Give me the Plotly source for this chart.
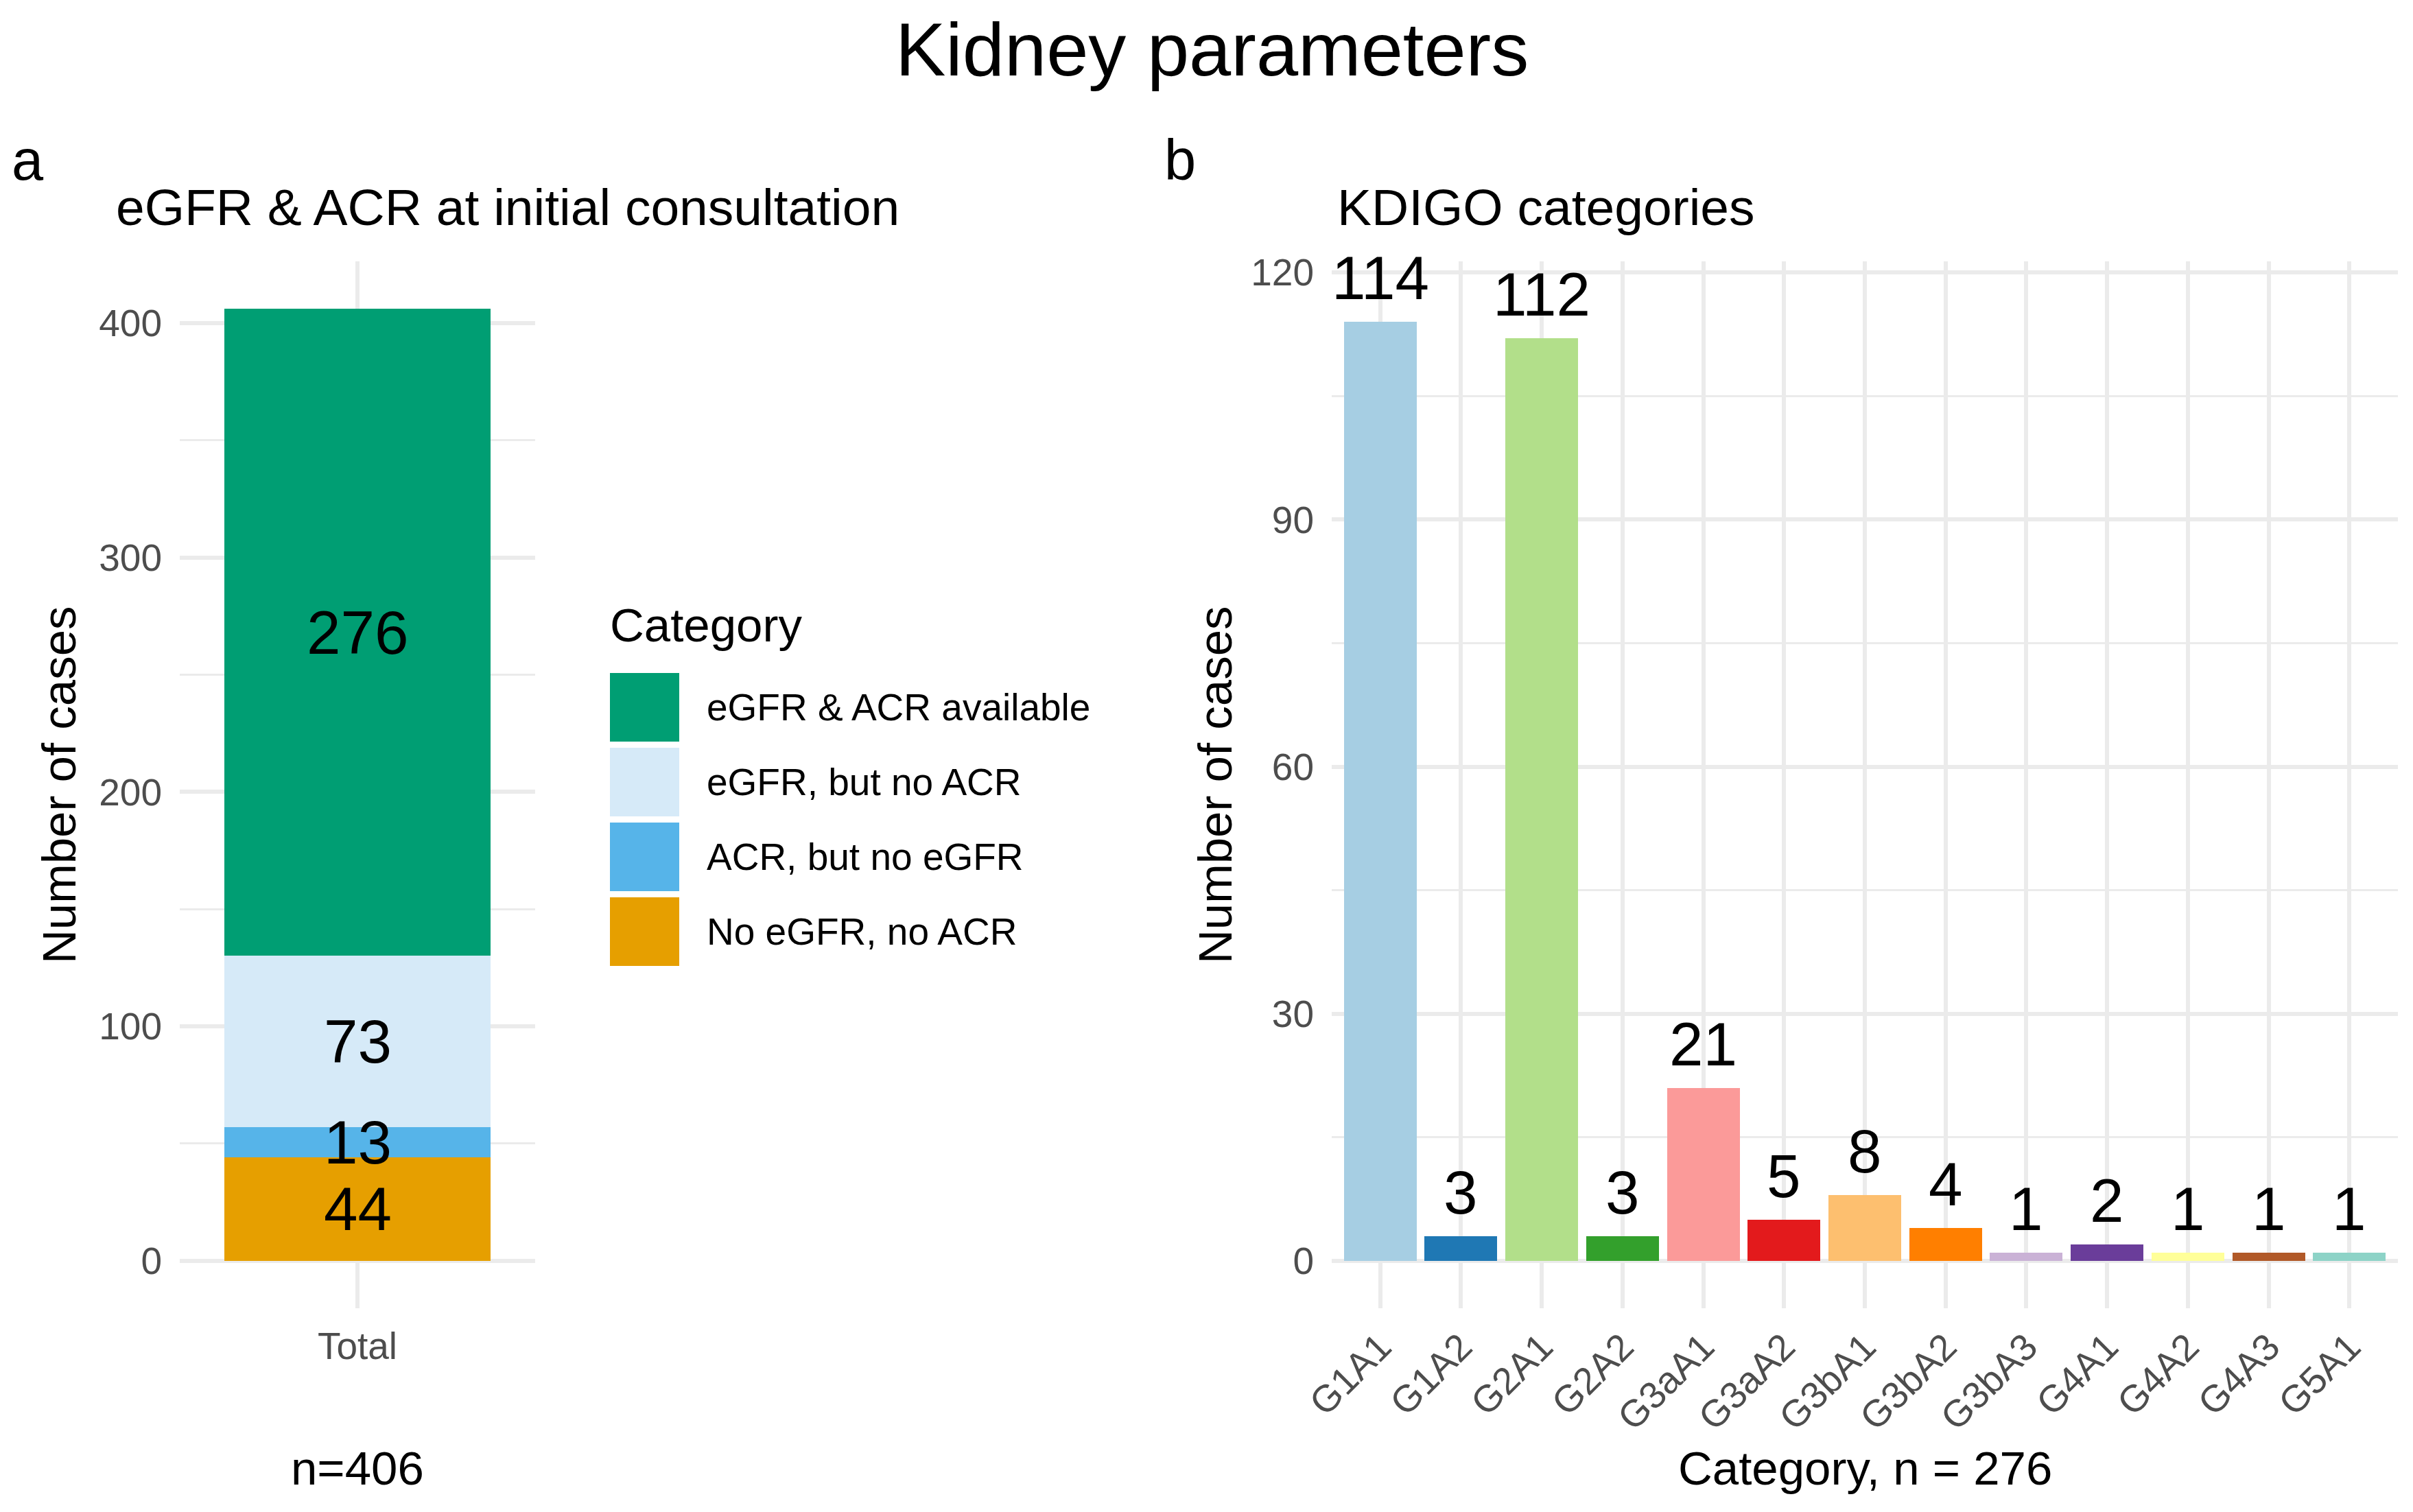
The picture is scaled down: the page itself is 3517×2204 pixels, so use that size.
import numpy as np
import plotly.graph_objects as go

W, H = 3517, 2204
OFF = 8  # page body margin compensation
FONT = "Liberation Sans, Arial, sans-serif"

# ---------------- data ----------------
# Panel a: stacked single bar
a_categories = ["eGFR & ACR available", "eGFR, but no ACR", "ACR, but no eGFR", "No eGFR, no ACR"]
a_values = [276, 73, 13, 44]
a_colors = ["#009E73", "#D6EAF8", "#56B4E9", "#E69F00"]
a_xlabel = "Total"
a_yticks = [0, 100, 200, 300, 400]

# Panel b: KDIGO categories
b_categories = ["G1A1", "G1A2", "G2A1", "G2A2", "G3aA1", "G3aA2", "G3bA1",
                "G3bA2", "G3bA3", "G4A1", "G4A2", "G4A3", "G5A1"]
b_values = [114, 3, 112, 3, 21, 5, 8, 4, 1, 2, 1, 1, 1]
b_colors = ["#A6CEE3", "#1F78B4", "#B2DF8A", "#33A02C", "#FB9A99", "#E31A1C",
            "#FDBF6F", "#FF7F00", "#CAB2D6", "#6A3D9A", "#FFFF99", "#B15928", "#8DD3C7"]
b_yticks = [0, 30, 60, 90, 120]

# ---------------- helpers ----------------
def px(x):
    return (x - OFF) / W

def py(y):
    return 1 - (y - OFF) / H

GRID = "#EBEBEB"
TICK_COL = "#4D4D4D"
LABEL_SIZE = 89

fig = go.Figure()

# stacked bars: bottom first (reverse of legend order)
order = list(range(len(a_categories)))[::-1]
for i in order:
    fig.add_trace(go.Bar(
        x=[a_xlabel], y=[a_values[i]], name=a_categories[i],
        marker=dict(color=a_colors[i], line=dict(width=0)),
        width=0.9, xaxis="x", yaxis="y", showlegend=False,
    ))

fig.add_trace(go.Bar(
    x=b_categories, y=b_values,
    marker=dict(color=b_colors, line=dict(width=0)),
    width=0.9, xaxis="x2", yaxis="y2", showlegend=False,
))

annotations = []

# labels centred in stacked segments
stack_vals = [a_values[i] for i in order]
cum = np.cumsum(stack_vals)
mids = cum - np.array(stack_vals) / 2
for v, m in zip(stack_vals, mids):
    annotations.append(dict(
        x=a_xlabel, y=float(m), xref="x", yref="y", text=str(v), showarrow=False,
        xanchor="center", yanchor="middle",
        font=dict(family=FONT, size=LABEL_SIZE, color="black")))

# labels above bars in panel b
for c, v in zip(b_categories, b_values):
    annotations.append(dict(
        x=c, y=v, xref="x2", yref="y2", text=str(v), showarrow=False,
        xanchor="center", yanchor="bottom", yshift=12,
        font=dict(family=FONT, size=LABEL_SIZE, color="black")))

# texts: title, tags, subtitles, axis titles
def txt(text, x, y, size, xanchor="left", yanchor="middle", angle=0, color="black"):
    annotations.append(dict(
        text=text, x=px(x), y=py(y), xref="paper", yref="paper", showarrow=False,
        xanchor=xanchor, yanchor=yanchor, textangle=angle,
        font=dict(family=FONT, size=size, color=color)))

# main title, anchored to the top edge so it is not clipped
annotations.append(dict(
    text="Kidney parameters", x=0.5, y=1.0, xref="paper", yref="paper",
    showarrow=False, xanchor="center", yanchor="top",
    font=dict(family=FONT, size=110, color="black")))
txt("a", 15, 233, 83)
txt("b", 1695, 233, 83)
txt("eGFR &amp; ACR at initial consultation", 167, 302, 75)
txt("KDIGO categories", 1947, 302, 75)
txt("Number of cases", 86, 1144, 69, xanchor="center", angle=-90)
txt("Number of cases", 1771, 1144, 69, xanchor="center", angle=-90)
txt("n=406", 521, 2140, 69, xanchor="center")
txt("Category, n = 276", 2718, 2140, 69, xanchor="center")

# manual legend (ggplot-style large keys)
txt("Category", 887, 912, 69)
shapes = []
key_x0, key_x1 = 889, 990
key_top0, key_pitch, key_h = 981, 109, 100
for i, (name, col) in enumerate(zip(a_categories, a_colors)):
    top = key_top0 + i * key_pitch
    shapes.append(dict(type="rect", xref="paper", yref="paper",
                       x0=px(key_x0), x1=px(key_x1), y0=py(top + key_h), y1=py(top),
                       fillcolor=col, line=dict(width=0), layer="above"))
    txt(name.replace("&", "&amp;"), 1028, top + key_h / 2, 55)

# ---------------- axes ----------------
dom_y = [py(1907), py(381)]

common_y = dict(showgrid=True, gridcolor=GRID, gridwidth=6, zeroline=False,
                showline=False, ticks="", automargin=False,
                tickfont=dict(family=FONT, size=55, color=TICK_COL),
                ticklabelstandoff=25)
common_x = dict(showgrid=True, gridcolor=GRID, gridwidth=6, zeroline=False,
                showline=False, ticks="", automargin=False, type="category",
                tickfont=dict(family=FONT, size=55, color=TICK_COL))

fig.update_layout(
    width=W, height=H,
    margin=dict(l=0, r=0, t=0, b=0, pad=0),
    paper_bgcolor="white", plot_bgcolor="white",
    barmode="stack", bargap=0,
    showlegend=False,
    font=dict(family=FONT),
    xaxis=dict(domain=[px(262), px(780)], range=[-0.6, 0.6],
               ticklabelstandoff=18, **common_x),
    yaxis=dict(domain=dom_y, range=[-20.3, 426.3], tickvals=a_yticks,
               minor=dict(dtick=50, tick0=0, showgrid=True, gridcolor=GRID, gridwidth=3),
               **common_y),
    xaxis2=dict(domain=[px(1941), px(3495)], range=[-0.6, len(b_categories) - 0.4],
                tickangle=-45, ticklabelstandoff=12, anchor="y2", **common_x),
    yaxis2=dict(domain=dom_y, range=[-5.75, 121.35], tickvals=b_yticks, anchor="x2",
                minor=dict(dtick=15, tick0=0, showgrid=True, gridcolor=GRID, gridwidth=3),
                **common_y),
    annotations=annotations,
    shapes=shapes,
)

fig.write_html("out.html")
